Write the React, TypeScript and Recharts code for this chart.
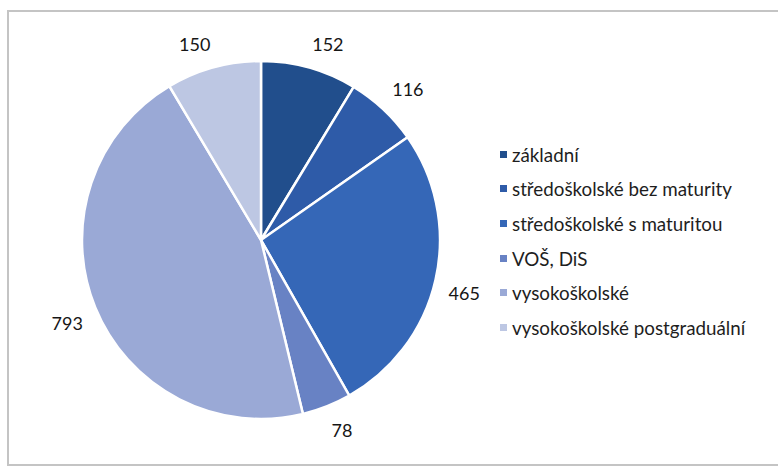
import { PieChart, Pie, Cell, Legend } from "recharts"

const categories = [
  "základní",
  "středoškolské bez maturity",
  "středoškolské s maturitou",
  "VOŠ, DiS",
  "vysokoškolské",
  "vysokoškolské postgraduální",
]
const counts = [152, 116, 465, 78, 793, 150]
const colors = ["#214E8C", "#2E5BA8", "#3567B7", "#6882C4", "#9AA9D6", "#BDC7E3"]

const data = categories.map((name, i) => ({ name, value: counts[i] }))

const RADIAN = Math.PI / 180

// excel-like outside end label: box corner sits just outside the arc
function OutsideLabel(props: any) {
  const { cx, cy, midAngle, outerRadius, value } = props
  const cos = Math.cos(-midAngle * RADIAN)
  const sin = Math.sin(-midAngle * RADIAN)
  const halfW = String(value).length * 5
  const halfH = 10
  const r = outerRadius + 14
  const x = cx + r * cos + Math.sign(cos) * halfW
  const y = cy + r * sin + Math.sign(sin) * halfH
  return (
    <text
      x={x}
      y={y}
      fill="#161616"
      textAnchor="middle"
      dominantBaseline="central"
      style={{ fontFamily: "Lato, sans-serif", fontSize: 18 }}
    >
      {value}
    </text>
  )
}

function LegendList(props: any) {
  const items = props.payload ?? []
  return (
    <div style={{ fontFamily: "Lato, sans-serif", fontSize: 18.8, color: "#1e1e1e" }}>
      {items.map((it: any, i: number) => (
        <div key={i} style={{ display: "flex", alignItems: "center", height: 34.6 }}>
          <span
            style={{
              display: "inline-block",
              width: 7,
              height: 7,
              background: colors[i] ?? it.color,
              marginRight: 5,
            }}
          />
          <span>{categories[i] ?? it.value}</span>
        </div>
      ))}
    </div>
  )
}

export default function App() {
  return (
    <div style={{ position: "absolute", left: 0, top: 0, width: 778, height: 468, background: "#fff", overflow: "hidden" }}>
      <div
        style={{
          position: "absolute",
          left: 7,
          top: 10,
          width: 800,
          height: 456,
          border: "2px solid #c4c4c4",
          boxSizing: "border-box",
        }}
      />
      <PieChart
        width={778}
        height={468}
        margin={{ top: 0, right: 0, bottom: 0, left: 0 }}
        style={{ position: "absolute", left: 0, top: 0 }}
      >
        <Pie
          data={data}
          dataKey="value"
          nameKey="name"
          cx={261}
          cy={240}
          outerRadius={179}
          startAngle={90}
          endAngle={-270}
          stroke="#ffffff"
          strokeWidth={2.5}
          label={OutsideLabel}
          labelLine={false}
          isAnimationActive={false}
        >
          {data.map((d, i) => (
            <Cell key={d.name} fill={colors[i]} />
          ))}
        </Pie>
        <Legend
          content={LegendList}
          wrapperStyle={{ position: "absolute", left: 500, top: 137, width: 275 }}
        />
      </PieChart>
    </div>
  )
}
